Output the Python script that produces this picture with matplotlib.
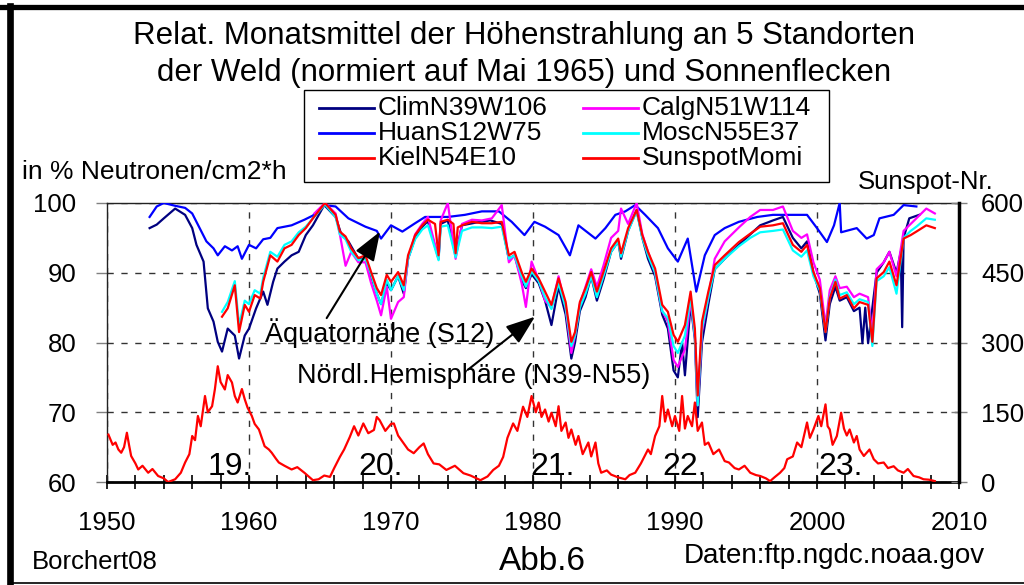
"""Relative Monatsmittel der Höhenstrahlung (5 Standorte) und Sonnenflecken, Abb.6."""

import matplotlib

matplotlib.use("Agg")
import matplotlib.pyplot as plt
from matplotlib.lines import Line2D
from matplotlib.patches import Rectangle
from matplotlib.ticker import MultipleLocator

plt.rcParams["font.family"] = ["Liberation Sans", "DejaVu Sans"]

# --- Daten -------------------------------------------------------------------
clim_years = [1953.0, 1953.5, 1954.0, 1954.8, 1955.5, 1956.0, 1956.3, 1956.8, 1957.1, 1957.5,
              1957.8, 1958.1, 1958.5, 1959.0, 1959.3, 1959.7, 1960.0, 1960.5, 1961.0, 1961.3,
              1961.7, 1962.0, 1962.5, 1963.0, 1963.5, 1964.0, 1964.5, 1965.3, 1966.1, 1966.5,
              1967.0, 1967.7, 1968.2, 1968.6, 1969.0, 1969.3, 1969.7, 1970.0, 1970.5, 1970.9,
              1971.2, 1971.7, 1972.2, 1972.6, 1973.35, 1973.5, 1974.0, 1974.55, 1975.0, 1976.0,
              1977.0, 1977.8, 1978.3, 1978.7, 1979.2, 1979.5, 1979.9, 1980.4, 1980.85, 1981.3,
              1981.8, 1982.3, 1982.7, 1982.96, 1983.3, 1983.7, 1984.1, 1984.5, 1984.96, 1985.5,
              1986.0, 1986.2, 1986.7, 1987.3, 1987.7, 1988.1, 1988.6, 1989.1, 1989.5, 1989.9,
              1990.2, 1990.5, 1990.7, 1991.1, 1991.4, 1991.6, 1991.9, 1992.35, 1992.8, 1993.5,
              1994.5, 1995.3, 1996.0, 1996.9, 1997.6, 1998.3, 1998.9, 1999.3, 1999.75, 2000.2,
              2000.6, 2000.9, 2001.3, 2001.6, 2002.1, 2002.6, 2003.0, 2003.2, 2003.4, 2003.6,
              2003.9, 2004.2, 2004.7, 2005.1, 2005.6, 2005.9, 2006.0, 2006.1, 2006.5, 2007.2]
clim_vals = [96.4, 96.9, 97.8, 99.2, 98.3, 96.4, 94.0, 91.6, 84.9, 83.0,
             80.1, 78.7, 82.0, 81.0, 77.7, 81.0, 82.0, 84.9, 87.3, 85.4,
             88.7, 90.6, 91.6, 92.5, 93.0, 95.4, 96.8, 99.7, 98.0, 95.5,
             94.5, 92.0, 92.0, 89.5, 87.0, 85.5, 88.5, 87.5, 89.5, 87.0,
             92.0, 95.0, 96.6, 97.4, 92.0, 97.0, 97.5, 92.5, 96.8, 97.2,
             97.5, 97.0, 92.0, 92.5, 89.0, 87.8, 89.8, 88.5, 86.0, 82.5,
             88.0, 84.0, 77.7, 80.0, 84.5, 86.5, 89.5, 86.0, 89.0, 93.0,
             94.5, 92.0, 96.0, 99.0, 95.0, 92.0, 89.5, 84.0, 82.0, 76.0,
             75.0, 80.0, 75.3, 85.5, 80.5, 69.3, 80.0, 85.5, 90.5, 92.0,
             94.0, 95.5, 96.8, 97.5, 98.0, 95.0, 93.5, 94.5, 90.0, 87.0,
             80.3, 85.5, 88.0, 86.0, 86.5, 84.5, 85.0, 79.9, 85.0, 79.9,
             85.0, 90.0, 91.5, 93.0, 90.0, 93.0, 82.2, 95.0, 97.8, 98.3]

huan_years = [1953.0, 1953.5, 1954.0, 1954.8, 1955.5, 1956.0, 1956.5, 1957.0, 1957.5, 1957.8,
              1958.3, 1958.8, 1959.2, 1959.5, 1960.0, 1960.5, 1961.0, 1961.5, 1962.0, 1963.0,
              1963.9, 1964.5, 1965.3, 1966.1, 1967.0, 1968.2, 1969.0, 1969.3, 1970.0, 1970.8,
              1971.7, 1972.4, 1974.0, 1975.2, 1976.4, 1977.6, 1978.5, 1979.4, 1980.1, 1980.85,
              1981.8, 1982.6, 1983.2, 1984.4, 1985.1, 1985.8, 1986.5, 1987.2, 1987.9, 1988.8,
              1989.5, 1990.2, 1990.9, 1991.5, 1992.1, 1992.8, 1993.5, 1994.5, 1995.8, 1996.9,
              1998.1, 1999.3, 2000.0, 2000.7, 2001.2, 2001.6, 2001.7, 2002.8, 2003.5, 2004.0,
              2004.4, 2005.4, 2006.1, 2007.0]
huan_vals = [98.0, 99.5, 100.0, 99.6, 99.3, 98.5, 96.5, 94.5, 93.5, 92.5,
             93.8, 93.2, 93.8, 92.0, 94.0, 93.5, 94.8, 95.0, 96.4, 96.8,
             97.6, 98.2, 99.7, 99.5, 97.8, 96.6, 96.0, 94.9, 96.8, 95.9,
             97.1, 98.0, 98.0, 98.3, 98.8, 98.8, 97.3, 95.4, 97.3, 96.6,
             95.4, 92.5, 96.8, 94.9, 96.4, 98.3, 98.8, 99.7, 98.3, 96.4,
             93.5, 91.6, 94.9, 87.3, 92.5, 95.4, 96.4, 97.3, 98.0, 98.3,
             98.3, 98.3, 96.4, 94.4, 96.8, 100.0, 95.8, 96.4, 94.9, 95.4,
             97.8, 98.3, 99.7, 99.5]

kiel_years = [1958.1, 1958.5, 1959.0, 1959.3, 1959.7, 1960.0, 1960.4, 1960.8, 1961.0, 1961.5,
              1962.0, 1962.5, 1963.0, 1963.5, 1964.0, 1964.5, 1965.35, 1966.1, 1966.4, 1966.8,
              1967.2, 1967.7, 1968.2, 1968.6, 1969.0, 1969.3, 1969.7, 1970.0, 1970.5, 1970.9,
              1971.2, 1971.7, 1972.2, 1972.6, 1973.1, 1973.35, 1973.5, 1974.0, 1974.4, 1974.55,
              1974.7, 1975.0, 1975.7, 1976.4, 1977.1, 1977.8, 1978.3, 1978.7, 1979.2, 1979.5,
              1979.9, 1980.4, 1980.85, 1981.3, 1981.8, 1982.3, 1982.7, 1982.96, 1983.3, 1983.7,
              1984.1, 1984.5, 1984.96, 1985.5, 1986.0, 1986.2, 1986.7, 1987.3, 1987.7, 1988.1,
              1988.6, 1989.1, 1989.5, 1989.9, 1990.2, 1990.7, 1991.1, 1991.4, 1991.6, 1991.9,
              1992.35, 1992.8, 1993.5, 1994.5, 1995.3, 1996.0, 1996.9, 1997.6, 1998.3, 1998.9,
              1999.3, 1999.75, 2000.2, 2000.6, 2000.9, 2001.3, 2001.6, 2002.1, 2002.6, 2003.0,
              2003.6, 2003.9, 2004.2, 2004.7, 2005.1, 2005.6, 2006.1, 2006.6, 2007.0, 2007.7,
              2008.3]
kiel_vals = [83.7, 84.9, 88.2, 81.5, 85.4, 84.4, 86.8, 86.3, 88.7, 92.5,
             91.6, 93.5, 94.0, 95.4, 96.4, 97.8, 100.0, 98.3, 95.9, 95.2,
             93.5, 92.1, 92.5, 90.1, 87.8, 86.8, 89.7, 88.7, 90.1, 88.2,
             92.5, 95.4, 96.8, 97.6, 97.0, 92.5, 97.3, 97.6, 97.0, 92.8,
             96.5, 96.8, 97.3, 97.1, 97.1, 97.3, 92.5, 93.0, 90.1, 88.7,
             90.6, 89.2, 87.3, 85.4, 89.2, 85.8, 80.1, 81.5, 85.8, 87.8,
             90.1, 87.3, 90.1, 93.5, 94.9, 92.8, 96.4, 99.0, 95.4, 93.0,
             90.6, 85.4, 84.4, 81.1, 80.1, 82.5, 87.3, 82.0, 72.4, 83.0,
             87.3, 91.1, 92.5, 94.4, 95.6, 96.6, 96.8, 97.1, 94.0, 93.0,
             94.0, 90.1, 87.8, 81.5, 86.3, 88.7, 86.3, 86.8, 84.9, 85.8,
             85.4, 80.1, 89.2, 90.1, 91.6, 88.2, 94.9, 95.4, 95.9, 96.8,
             96.4]

calg_years = [1964.6, 1965.35, 1966.1, 1966.4, 1966.8, 1967.2, 1967.7, 1968.2, 1968.6, 1969.0,
              1969.3, 1969.7, 1970.0, 1970.5, 1970.9, 1971.2, 1971.7, 1972.2, 1972.6, 1973.35,
              1973.5, 1974.0, 1974.55, 1975.0, 1975.7, 1976.4, 1977.1, 1977.8, 1978.3, 1978.7,
              1979.2, 1979.5, 1979.9, 1980.4, 1980.85, 1981.3, 1981.8, 1982.3, 1982.7, 1982.96,
              1983.3, 1983.7, 1984.1, 1984.5, 1984.96, 1985.5, 1986.0, 1986.2, 1986.7, 1987.3,
              1987.7, 1988.1, 1988.6, 1989.1, 1989.5, 1989.9, 1990.2, 1990.7, 1991.1, 1991.4,
              1991.6, 1991.9, 1992.35, 1992.8, 1993.5, 1994.5, 1995.3, 1996.0, 1996.9, 1997.6,
              1998.3, 1998.9, 1999.3, 1999.75, 2000.2, 2000.6, 2000.9, 2001.3, 2001.6, 2002.1,
              2002.6, 2003.0, 2003.6, 2003.9, 2004.2, 2004.7, 2005.1, 2005.6, 2006.1, 2006.6,
              2007.0, 2007.7, 2008.3]
calg_vals = [98.5, 100.0, 98.5, 95.5, 91.0, 93.0, 91.5, 91.5, 88.5, 86.0,
             83.9, 88.0, 83.4, 85.8, 86.5, 92.0, 95.5, 97.0, 98.0, 92.0,
             97.5, 100.0, 92.0, 97.0, 97.6, 97.5, 97.8, 99.7, 91.5, 92.5,
             88.5, 85.1, 91.6, 89.0, 86.0, 85.0, 89.5, 85.0, 78.5, 81.0,
             85.5, 88.0, 90.5, 88.0, 91.0, 95.0, 96.0, 99.2, 97.0, 100.0,
             95.5, 93.0, 90.0, 84.5, 83.0, 77.5, 76.5, 79.0, 86.0, 81.0,
             71.0, 81.5, 86.5, 92.0, 94.5, 96.5, 98.0, 99.0, 99.0, 99.5,
             96.0, 95.0, 95.5, 91.5, 89.0, 82.5, 87.5, 89.5, 87.8, 88.0,
             86.5, 87.0, 86.5, 81.0, 90.5, 91.5, 93.0, 89.5, 96.0, 97.0,
             97.8, 99.2, 98.5]

mosc_years = [1958.1, 1958.5, 1959.0, 1959.3, 1959.7, 1960.0, 1960.4, 1960.8, 1961.0, 1961.5,
              1962.0, 1962.5, 1963.0, 1963.5, 1964.0, 1964.5, 1965.35, 1966.1, 1966.4, 1966.8,
              1967.2, 1967.7, 1968.2, 1968.6, 1969.0, 1969.3, 1969.7, 1970.0, 1970.5, 1970.9,
              1971.2, 1971.7, 1972.2, 1972.6, 1973.35, 1973.5, 1974.0, 1974.55, 1975.0, 1975.7,
              1976.4, 1977.1, 1977.8, 1978.3, 1978.7, 1979.2, 1979.5, 1979.9, 1980.4, 1980.85,
              1981.3, 1981.8, 1982.3, 1982.7, 1982.96, 1983.3, 1983.7, 1984.1, 1984.5, 1984.96,
              1985.5, 1986.0, 1986.2, 1986.7, 1987.3, 1987.7, 1988.1, 1988.6, 1989.1, 1989.5,
              1989.9, 1990.2, 1990.7, 1991.1, 1991.4, 1991.6, 1991.9, 1992.35, 1992.8, 1993.5,
              1994.5, 1995.3, 1996.0, 1996.9, 1997.6, 1998.3, 1998.9, 1999.3, 1999.75, 2000.2,
              2000.6, 2000.9, 2001.3, 2001.6, 2002.1, 2002.6, 2003.0, 2003.6, 2003.9, 2004.2,
              2004.7, 2005.1, 2005.6, 2006.1, 2006.6, 2007.0, 2007.7, 2008.3]
mosc_vals = [84.4, 85.8, 88.8, 82.5, 86.0, 85.5, 87.5, 87.0, 89.3, 93.0,
             92.3, 94.0, 94.5, 95.8, 96.6, 97.8, 99.8, 98.0, 95.5, 94.8,
             93.0, 91.8, 92.0, 89.8, 87.0, 85.5, 89.0, 87.5, 89.5, 87.5,
             92.0, 94.8, 96.2, 96.8, 91.8, 96.6, 96.8, 92.2, 96.0, 96.5,
             96.5, 96.4, 96.6, 92.0, 92.5, 89.5, 88.0, 90.2, 88.8, 86.5,
             84.8, 88.5, 85.0, 79.5, 81.0, 85.0, 87.0, 89.5, 86.5, 89.5,
             93.0, 94.5, 92.3, 96.0, 98.8, 95.0, 92.5, 90.0, 84.5, 83.5,
             79.5, 78.5, 81.0, 86.5, 81.0, 71.0, 82.0, 86.5, 90.5, 92.0,
             93.8, 95.0, 95.8, 96.0, 96.2, 93.2, 92.3, 93.2, 89.5, 87.5,
             81.5, 86.5, 89.0, 86.8, 87.2, 85.5, 86.2, 85.8, 79.5, 88.8,
             89.5, 90.8, 87.0, 95.0, 96.0, 96.6, 97.8, 97.6]

sun_years = [1950.1, 1950.4, 1950.6, 1950.8, 1951.0, 1951.2, 1951.4, 1951.55, 1951.7, 1952.0,
             1952.2, 1952.5, 1952.9, 1953.2, 1953.6, 1954.0, 1954.3, 1954.8, 1955.2, 1955.5,
             1955.8, 1956.0, 1956.2, 1956.4, 1956.6, 1956.9, 1957.1, 1957.4, 1957.6, 1957.8,
             1958.0, 1958.3, 1958.5, 1958.8, 1959.0, 1959.2, 1959.5, 1959.7, 1959.9, 1960.2,
             1960.4, 1960.7, 1960.9, 1961.1, 1961.4, 1961.6, 1961.9, 1962.1, 1962.5, 1963.0,
             1963.4, 1963.9, 1964.2, 1964.5, 1964.9, 1965.3, 1965.7, 1966.0, 1966.4, 1966.7,
             1967.1, 1967.4, 1967.7, 1968.05, 1968.4, 1968.8, 1969.0, 1969.2, 1969.6, 1970.0,
             1970.2, 1970.5, 1970.9, 1971.2, 1971.6, 1972.0, 1972.3, 1972.6, 1973.0, 1973.4,
             1973.9, 1974.5, 1975.1, 1975.6, 1976.3, 1976.8, 1977.2, 1977.6, 1977.9, 1978.2,
             1978.6, 1978.9, 1979.3, 1979.6, 1979.9, 1980.2, 1980.4, 1980.6, 1980.85, 1981.1,
             1981.3, 1981.6, 1981.8, 1982.0, 1982.3, 1982.5, 1982.7, 1983.0, 1983.2, 1983.5,
             1983.9, 1984.1, 1984.4, 1984.6, 1984.8, 1985.2, 1985.5, 1986.0, 1986.5, 1986.8,
             1987.2, 1987.6, 1988.1, 1988.3, 1988.6, 1988.9, 1989.1, 1989.3, 1989.5, 1989.8,
             1990.0, 1990.3, 1990.5, 1990.7, 1990.9, 1991.2, 1991.4, 1991.6, 1991.9, 1992.1,
             1992.35, 1992.7, 1993.1, 1993.5, 1993.8, 1994.2, 1994.5, 1994.9, 1995.3, 1995.7,
             1996.0, 1996.4, 1996.7, 1997.0, 1997.4, 1997.7, 1997.9, 1998.3, 1998.6, 1998.9,
             1999.3, 1999.5, 1999.75, 2000.1, 2000.3, 2000.6, 2000.75, 2000.9, 2001.1, 2001.4,
             2001.7, 2001.9, 2002.1, 2002.3, 2002.6, 2002.8, 2003.0, 2003.3, 2003.7, 2004.0,
             2004.3, 2004.7, 2005.0, 2005.4, 2005.7, 2006.1, 2006.4, 2006.8, 2007.2, 2007.5,
             2007.9, 2008.3]
sun_vals = [102, 80, 85, 70, 63, 75, 106, 80, 56, 40,
            27, 35, 20, 28, 13, 8, 0, 6, 20, 42,
            60, 99, 90, 142, 120, 185, 150, 163, 200, 249,
            215, 199, 230, 214, 185, 171, 200, 178, 160, 142,
            125, 113, 95, 77, 70, 63, 50, 42, 35, 27,
            32, 20, 12, 4, 6, 14, 11, 30, 54, 70,
            97, 120, 100, 126, 105, 112, 140, 133, 110, 125,
            126, 100, 83, 70, 62, 75, 83, 60, 40, 38,
            26, 35, 19, 14, 4, 12, 26, 35, 54, 95,
            126, 110, 162, 140, 185, 150, 171, 140, 156, 130,
            149, 120, 163, 110, 128, 95, 113, 80, 99, 60,
            85, 55, 85, 40, 20, 25, 16, 10, 6, 15,
            20, 40, 70, 60, 99, 120, 185, 130, 156, 120,
            142, 110, 185, 115, 142, 120, 171, 110, 128, 80,
            85, 60, 70, 45, 42, 30, 27, 35, 20, 15,
            13, 8, 2, 10, 20, 30, 49, 55, 85, 75,
            128, 95, 113, 142, 120, 167, 120, 113, 80, 99,
            149, 115, 100, 113, 85, 99, 70, 56, 70, 49,
            40, 42, 30, 34, 25, 20, 28, 13, 10, 6,
            5, 2]

cycle_labels = ["19.", "20.", "21.", "22.", "23."]
cycle_x = [1957.1, 1967.7, 1979.8, 1989.1, 2000.1]

legend_labels = ["ClimN39W106", "HuanS12W75", "KielN54E10",
                 "CalgN51W114", "MoscN55E37", "SunspotMomi"]
legend_colors = ["#000080", "#0000ff", "#ff0000", "#ff00ff", "#00ffff", "#ff0000"]

# --- Abbildung ---------------------------------------------------------------
W, H = 1024, 585
fig = plt.figure(figsize=(W / 100, H / 100), dpi=100)
fig.patch.set_facecolor("white")

ax = fig.add_axes([0.1045, 0.176, 0.832, 0.477])
ax2 = ax.twinx()

ax.plot(huan_years, huan_vals, color="#0000ff", lw=1.6, zorder=3)
ax.plot(clim_years, clim_vals, color="#000080", lw=1.6, zorder=4)
ax.plot(calg_years, calg_vals, color="#ff00ff", lw=1.6, zorder=5)
ax.plot(mosc_years, mosc_vals, color="#00ffff", lw=1.6, zorder=6)
ax.plot(kiel_years, kiel_vals, color="#ff0000", lw=1.6, zorder=7)
ax2.plot(sun_years, sun_vals, color="#ff0000", lw=1.6)

ax.set_xlim(1950, 2010)
ax.set_ylim(60, 100)
ax2.set_ylim(0, 600)

ax.xaxis.set_major_locator(MultipleLocator(10))
ax.xaxis.set_minor_locator(MultipleLocator(2))
ax.yaxis.set_major_locator(MultipleLocator(10))
ax2.yaxis.set_major_locator(MultipleLocator(150))

dash = (0, (4.5, 5.5))
ax.grid(True, which="major", axis="both", color="#333333", linestyle=dash, lw=1)

ax.tick_params(axis="x", which="both", direction="inout", length=10, width=1.2,
               color="black", labelsize=18.5, pad=16)
ax.tick_params(axis="y", direction="out", length=8, width=1, color="#808080",
               labelsize=18.5, pad=14)
# rechte Skala: Vorlage ist am Rand beschnitten, hier so nah wie möglich ohne Abschneiden
ax2.tick_params(axis="y", direction="inout", length=12, width=1, color="#808080",
                labelsize=18.5, pad=10)

for name in ("top", "left"):
    ax.spines[name].set_linewidth(1)
    ax.spines[name].set_color("#222222")
ax.spines["bottom"].set_linewidth(2)
ax.spines["right"].set_visible(False)
for name in ("top", "left", "bottom"):
    ax2.spines[name].set_visible(False)
ax2.spines["right"].set_linewidth(2.5)

for lab, xx in zip(cycle_labels, cycle_x):
    ax.text(xx, 61.0, lab, fontsize=23, ha="left", va="baseline", zorder=8)

arrow = dict(arrowstyle="-|>,head_length=0.9,head_width=0.33", mutation_scale=20,
             color="black", lw=1.5, shrinkA=0, shrinkB=0)
ax.annotate("", xy=(1969.23, 95.9), xytext=(1965.47, 83.5), arrowprops=arrow, zorder=9)
ax.annotate("", xy=(1980.14, 83.7), xytext=(1975.42, 76.1), arrowprops=arrow, zorder=9)
ax.text(1961.13, 80.1, "Äquatornähe (S12)", fontsize=19.5, ha="left", va="baseline", zorder=9)
ax.text(1963.36, 74.15, "Nördl.Hemisphäre (N39-N55)", fontsize=19.5, ha="left",
        va="baseline", zorder=9)

# Titel und Beschriftungen
fig.text(0.512, 0.939, "Relat. Monatsmittel der Höhenstrahlung an 5 Standorten",
         fontsize=22.5, ha="center", va="center")
fig.text(0.512, 0.875, "der Weld (normiert auf Mai 1965) und Sonnenflecken",
         fontsize=22.5, ha="center", va="center")
fig.text(0.0215, 0.706, "in % Neutronen/cm2*h", fontsize=19, ha="left", va="center")
fig.text(0.970, 0.689, "Sunspot-Nr.", fontsize=18.5, ha="right", va="center")
fig.text(0.031, 0.039, "Borchert08", fontsize=18.5, ha="left", va="center")
fig.text(0.530, 0.041, "Abb.6", fontsize=24, ha="center", va="center")
fig.text(0.962, 0.049, "Daten:ftp.ngdc.noaa.gov", fontsize=20, ha="right", va="center")

# Legende: Kasten und Einträge in Pixelpositionen der Vorlage
fig.add_artist(Rectangle((304 / W, 1 - 182 / H), 525 / W, 92 / H, transform=fig.transFigure,
                         facecolor="white", edgecolor="black", lw=1, zorder=10))
row_y = [108, 133, 158]
col_x = [319, 583]
for i, (lab, col) in enumerate(zip(legend_labels, legend_colors)):
    x0 = col_x[i // 3]
    y0 = 1 - row_y[i % 3] / H
    fig.add_artist(Line2D([x0 / W, (x0 + 55) / W], [y0, y0], color=col, lw=2,
                          transform=fig.transFigure, zorder=11))
    fig.text((x0 + 59) / W, y0, lab, fontsize=19, ha="left", va="center", zorder=11)

# Rahmen um die ganze Grafik
fig.add_artist(Line2D([0, 1], [0.988, 0.988], color="black", lw=3.8, transform=fig.transFigure))
fig.add_artist(Line2D([0.0098, 0.0098], [0.003, 0.99], color="black", lw=4.8,
                      transform=fig.transFigure))
fig.add_artist(Line2D([0.0098, 1], [0.0034, 0.0034], color="black", lw=1.2,
                      transform=fig.transFigure))

fig.savefig("out.png", dpi=100)
